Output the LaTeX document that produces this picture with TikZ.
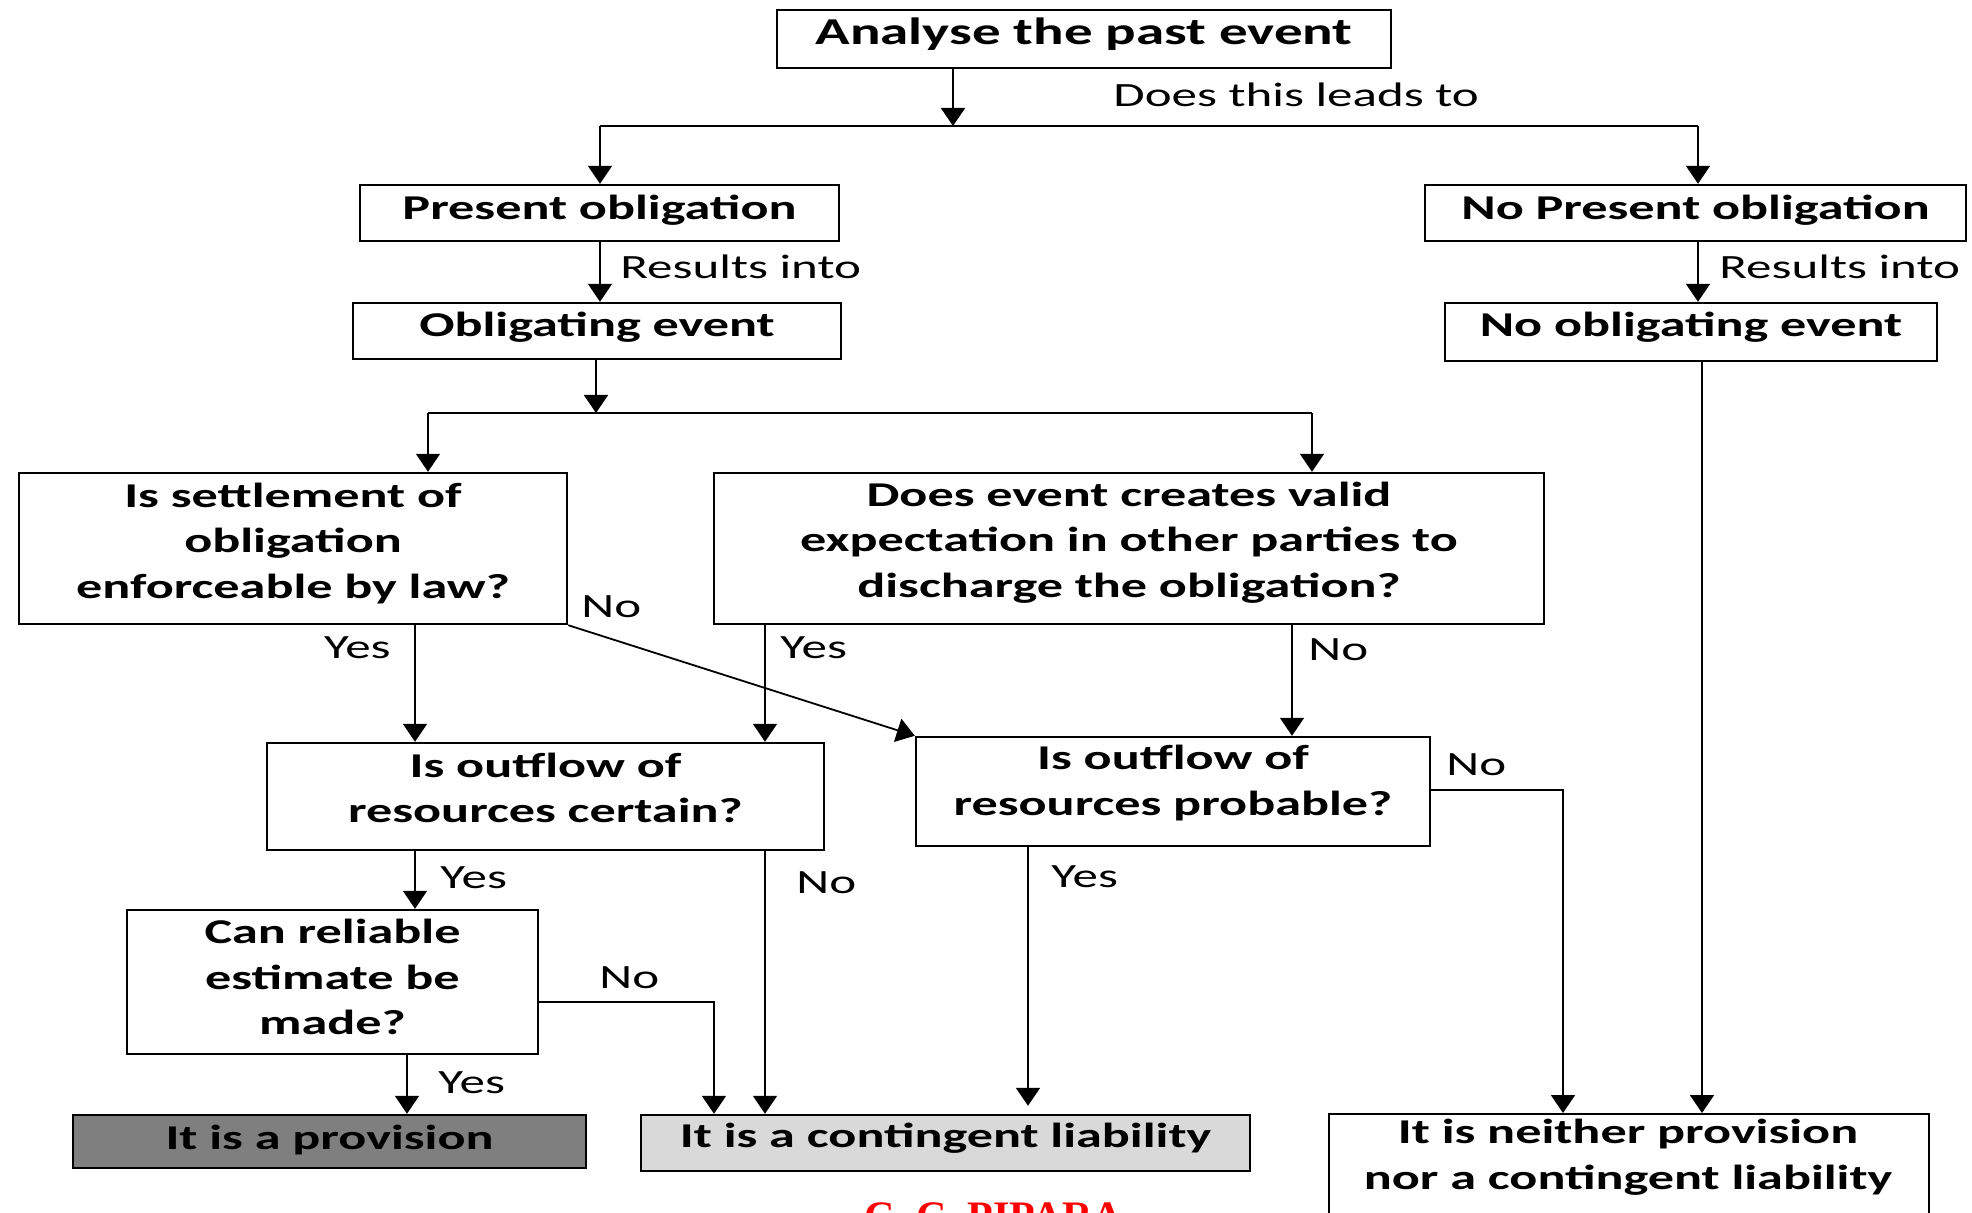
\documentclass[tikz,border=0pt]{standalone}
\usepackage{fontspec}
\setmainfont{Carlito}[FakeStretch=1.5]
\newfontfamily\redfont{Liberation Serif}
\usetikzlibrary{arrows.meta}
\definecolor{provgray}{HTML}{7F7F7F}
\definecolor{contgray}{HTML}{D9D9D9}
\begin{document}
\begin{tikzpicture}[x=0.5pt,y=-0.5pt,
  box/.style={draw, line width=1.2pt, inner sep=0pt},
  btext/.style={font=\bfseries\fontsize{17.4}{22.75}\selectfont, align=center, inner sep=0pt},
  lab/.style={font=\fontsize{17}{20}\selectfont, inner sep=0pt},
  conn/.style={line width=0.9pt},
  arr/.style={conn, -{Triangle[width=12pt,length=9pt]}}]
\useasboundingbox (0,0) rectangle (1972,1213);
\clip (0,0) rectangle (1972,1213);
% boxes
\node[box, minimum width=307pt, minimum height=29pt] (top) at (1084,39) {};
\node[box, minimum width=239.5pt, minimum height=28pt] (pres) at (599.5,213) {};
\node[box, minimum width=270.5pt, minimum height=28pt] (nopres) at (1695.5,213) {};
\node[box, minimum width=244pt, minimum height=28pt] (obl) at (597,331) {};
\node[box, minimum width=246pt, minimum height=29pt] (noobl) at (1691,332) {};
\node[box, minimum width=274pt, minimum height=75.5pt] (settle) at (293,548.5) {};
\node[box, minimum width=415pt, minimum height=75.5pt] (valid) at (1129,548.5) {};
\node[box, minimum width=278.5pt, minimum height=53.5pt] (certain) at (545.5,796.5) {};
\node[box, minimum width=257pt, minimum height=54.5pt] (probable) at (1173,791.5) {};
\node[box, minimum width=205.5pt, minimum height=72pt] (reliable) at (332.5,982) {};
\node[box, fill=provgray, minimum width=256.5pt, minimum height=26.5pt] (provision) at (329.5,1141.5) {};
\node[box, fill=contgray, minimum width=304.5pt, minimum height=28pt] (contingent) at (945.5,1143) {};
\node[box, anchor=north west, minimum width=300pt, minimum height=80pt] (neither) at (1328,1113) {};
% box texts
\node[btext, font=\bfseries\fontsize{19}{23}\selectfont] (ttop) at ([yshift=2.5pt]top.center) {Analyse the past event};
\node[btext] (tpres) at ([yshift=1.2pt]pres.center) {Present obligation};
\node[btext] (tnopres) at ([yshift=1.2pt]nopres.center) {No Present obligation};
\node[btext] (tobl) at ([yshift=1.8pt]obl.center) {Obligating event};
\node[btext] (tnoobl) at ([yshift=2.3pt]noobl.center) {No obligating event};
\node[btext] (tsettle) at ([yshift=2.5pt]settle.center) {Is settlement of\\obligation\\enforceable by law?};
\node[btext] (tvalid) at ([yshift=3pt]valid.center) {Does event creates valid\\expectation in other parties to\\discharge the obligation?};
\node[btext] (tcertain) at ([yshift=4.2pt]certain.center) {Is outflow of\\resources certain?};
\node[btext] (tprobable) at ([yshift=4.2pt]probable.center) {Is outflow of\\resources probable?};
\node[btext] (treliable) at ([yshift=2.5pt]reliable.center) {Can reliable\\estimate be\\made?};
\node[btext] (tprovision) at ([yshift=0.5pt]provision.center) {It is a provision};
\node[btext] (tcontingent) at ([yshift=2.3pt]contingent.center) {It is a contingent liability};
\node[btext] (tneither) at (1628,1157) {It is neither provision\\nor a contingent liability};
% junction coordinates
\coordinate (j1) at (953,126);
\coordinate (jL1) at (600,126);
\coordinate (jR1) at (1698,126);
\coordinate (j2) at (596,413);
\coordinate (jL2) at (428,413);
\coordinate (jR2) at (1312,413);
\coordinate (xs) at (415,0);
\coordinate (xv) at (765,0);
\coordinate (xn) at (1292,0);
\coordinate (xp) at (1028,0);
\coordinate (xr) at (407,0);
\coordinate (xo) at (1702,0);
\coordinate (cNo) at (1563,790);
\coordinate (rNo) at (714,1002);
% connectors
\draw[arr] (top.south -| j1) -- (j1);
\draw[conn] (jL1) -- (jR1);
\draw[arr] (jL1) -- (pres.north -| jL1);
\draw[arr] (jR1) -- (nopres.north -| jR1);
\draw[arr] (pres.south -| jL1) -- (obl.north -| jL1);
\draw[arr] (nopres.south -| jR1) -- (noobl.north -| jR1);
\draw[arr] (obl.south -| j2) -- (j2);
\draw[conn] (jL2) -- (jR2);
\draw[arr] (jL2) -- (settle.north -| jL2);
\draw[arr] (jR2) -- (valid.north -| jR2);
\draw[arr] (settle.south -| xs) -- (certain.north -| xs);
\draw[arr] (settle.south east) -- (probable.north west);
\draw[arr] (valid.south -| xv) -- (certain.north -| xv);
\draw[arr] (valid.south -| xn) -- (probable.north -| xn);
\draw[arr] (certain.south -| xs) -- (reliable.north -| xs);
\draw[arr] (certain.south -| xv) -- (contingent.north -| xv);
\draw[arr, shorten >=4pt] (probable.south -| xp) -- (contingent.north -| xp);
\draw[arr] (probable.east |- cNo) -- (cNo) -- (neither.north -| cNo);
\draw[arr] (noobl.south -| xo) -- (neither.north -| xo);
\draw[arr] (reliable.east |- rNo) -- (rNo) -- (contingent.north -| rNo);
\draw[arr] (reliable.south -| xr) -- (provision.north -| xr);
% labels
\node[lab, anchor=west] (l1) at (1113,95) {Does this leads to};
\node[lab, anchor=west] (l2) at (620,267) {Results into};
\node[lab, anchor=west] (l3) at (1719,267) {Results into};
\node[lab, anchor=west] (l4) at (581,607) {No};
\node[lab, anchor=east] (l5) at (391,648) {Yes};
\node[lab, anchor=west] (l6) at (780,648) {Yes};
\node[lab, anchor=west] (l7) at (1308,650) {No};
\node[lab, anchor=west] (l8) at (1446,765) {No};
\node[lab, anchor=west] (l9) at (440,878) {Yes};
\node[lab, anchor=west] (l10) at (796,883) {No};
\node[lab, anchor=west] (l11) at (1051,877) {Yes};
\node[lab, anchor=west] (l12) at (599,978) {No};
\node[lab, anchor=west] (l13) at (438,1083) {Yes};
\node[font=\redfont\bfseries\fontsize{21}{25}\selectfont, text=red, anchor=base, inner sep=0pt] (author) at (994,1230) {C. C. PIPARA};
\end{tikzpicture}
\end{document}
